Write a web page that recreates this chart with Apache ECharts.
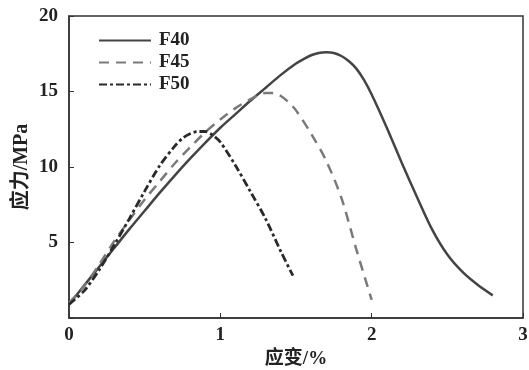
<!DOCTYPE html>
<html>
<head>
<meta charset="utf-8">
<script src="https://cdn.jsdelivr.net/npm/echarts@6/dist/echarts.min.js"></script>
<style>
  html, body { margin: 0; padding: 0; background: #fff; }
  #chart { width: 529px; height: 370px; }
</style>
</head>
<body>
<div id="chart"></div>
<script>
// 应力-应变曲线
var seriesNames = ['F40', 'F45', 'F50'];

var f40 = [
  [0, 0.9], [0.1, 2.15], [0.2, 3.4], [0.3, 4.65], [0.4, 5.9], [0.5, 7.1],
  [0.6, 8.3], [0.7, 9.45], [0.8, 10.55], [0.9, 11.6], [1.0, 12.6], [1.1, 13.5],
  [1.2, 14.4], [1.3, 15.25], [1.4, 16.1], [1.5, 16.85], [1.55, 17.15], [1.6, 17.4],
  [1.65, 17.55], [1.7, 17.6], [1.75, 17.55], [1.8, 17.35], [1.85, 17.0], [1.9, 16.5],
  [1.95, 15.75], [2.0, 14.8], [2.1, 12.6], [2.2, 10.25], [2.3, 8.0],
  [2.4, 5.85], [2.5, 4.2], [2.6, 3.05], [2.7, 2.2], [2.8, 1.5]
];
var f45 = [
  [0, 1.0], [0.1, 2.1], [0.2, 3.55], [0.3, 5.1], [0.4, 6.5], [0.5, 7.85],
  [0.6, 9.05], [0.7, 10.25], [0.8, 11.3], [0.9, 12.3], [1.0, 13.15], [1.1, 13.9],
  [1.2, 14.5], [1.25, 14.75], [1.3, 14.9], [1.35, 14.9], [1.4, 14.7], [1.45, 14.3],
  [1.5, 13.75], [1.6, 12.2], [1.7, 10.4], [1.8, 7.95], [1.9, 4.5], [2.0, 1.2]
];
var f50 = [
  [0, 0.9], [0.1, 1.8], [0.2, 3.2], [0.3, 4.85], [0.4, 6.6], [0.5, 8.4],
  [0.6, 10.1], [0.7, 11.4], [0.75, 11.9], [0.8, 12.2], [0.85, 12.35], [0.9, 12.35],
  [0.95, 12.1], [1.0, 11.65], [1.1, 10.1], [1.2, 8.35], [1.3, 6.55], [1.4, 4.4], [1.48, 2.8]
];

var xTicks = [0, 1, 2, 3];
var yTicks = [0, 5, 10, 15, 20];

var serif = '"Liberation Serif", "Noto Sans CJK SC", serif';
var chart = echarts.init(document.getElementById('chart'));

var option = {
  animation: false,
  backgroundColor: '#fff',
  grid: {
    left: 69, right: 6, top: 16, bottom: 52,
    containLabel: false,
    outerBoundsMode: 'none',
    show: true,
    borderColor: '#333',
    borderWidth: 1.5
  },
  legend: {
    orient: 'vertical',
    left: 98,
    top: 31,
    padding: 0,
    itemWidth: 52,
    itemHeight: 14,
    itemGap: 3,
    data: seriesNames,
    itemStyle: { opacity: 0 },
    textStyle: {
      fontFamily: serif,
      fontWeight: 'bold',
      fontSize: 19,
      color: '#222',
      padding: [0, 0, 0, 3]
    }
  },
  xAxis: {
    type: 'value',
    min: xTicks[0],
    max: xTicks[xTicks.length - 1],
    interval: 1,
    name: '应变/%',
    nameLocation: 'middle',
    nameGap: 30,
    nameTextStyle: { fontFamily: serif, fontWeight: 'bold', fontSize: 19, color: '#222' },
    axisLine: { lineStyle: { color: '#333', width: 1.5 } },
    axisTick: { inside: true, length: 5, lineStyle: { color: '#333' } },
    axisLabel: { margin: 8, fontFamily: serif, fontWeight: 'bold', fontSize: 19, color: '#222' },
    splitLine: { show: false }
  },
  yAxis: {
    type: 'value',
    min: yTicks[0],
    max: yTicks[yTicks.length - 1],
    interval: 5,
    name: '应力/MPa',
    nameLocation: 'middle',
    nameGap: 37,
    nameMoveOverlap: false,
    nameTextStyle: { fontFamily: serif, fontWeight: 'bold', fontSize: 20, color: '#222' },
    axisLine: { lineStyle: { color: '#333', width: 1.5 } },
    axisTick: { inside: true, length: 5, lineStyle: { color: '#333' } },
    axisLabel: {
      margin: 11,
      fontFamily: serif, fontWeight: 'bold', fontSize: 19, color: '#222',
      formatter: function (v) { return v === 0 ? '' : v; }
    },
    splitLine: { show: false }
  },
  series: [
    {
      name: seriesNames[0],
      type: 'line',
      data: f40,
      smooth: 0.3,
      symbol: 'none',
      lineStyle: { color: '#444', width: 2.5, type: 'solid' },
      itemStyle: { color: '#444' }
    },
    {
      name: seriesNames[1],
      type: 'line',
      data: f45,
      smooth: 0.3,
      symbol: 'none',
      lineStyle: { color: '#7a7a7a', width: 2.5, type: [10, 7] },
      itemStyle: { color: '#7a7a7a' }
    },
    {
      name: seriesNames[2],
      type: 'line',
      data: f50,
      smooth: 0.3,
      symbol: 'none',
      lineStyle: { color: '#2a2a2a', width: 2.8, type: [8, 3, 3, 3] },
      itemStyle: { color: '#2a2a2a' }
    }
  ]
};

chart.setOption(option);
</script>
</body>
</html>
